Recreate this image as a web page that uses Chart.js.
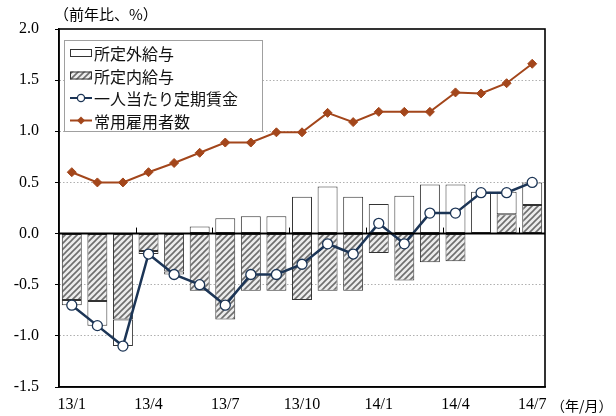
<!DOCTYPE html>
<html>
<head>
<meta charset="utf-8">
<script src="https://cdn.jsdelivr.net/npm/chart.js@4/dist/chart.umd.min.js"></script>
<style>
  html, body { margin: 0; padding: 0; background: #fff; }
  #wrap { width: 616px; height: 416px; }
</style>
</head>
<body>
<div id="wrap"><canvas id="c" width="616" height="416"></canvas></div>
<script>
// Months (year/month)
const categories = ['13/1','13/2','13/3','13/4','13/5','13/6','13/7','13/8','13/9','13/10',
                    '13/11','13/12','14/1','14/2','14/3','14/4','14/5','14/6','14/7'];
// Contribution of overtime pay (所定外給与), % y/y
const overtimePay = [-0.05,-0.24,-0.26,-0.03,-0.03,0.07,0.15,0.17,0.17,0.36,
                     0.46,0.36,0.29,0.37,0.48,0.48,0.41,0.22,0.22];
// Contribution of scheduled pay (所定内給与), % y/y
const scheduledPay = [-0.65,-0.66,-0.84,-0.17,-0.37,-0.56,-0.84,-0.56,-0.56,-0.65,
                      -0.56,-0.56,-0.19,-0.46,-0.28,-0.27,0.0,0.19,0.28];
// Regular wage per person, % y/y
const wagePerPerson = [-0.7,-0.9,-1.1,-0.2,-0.4,-0.5,-0.7,-0.4,-0.4,-0.3,
                       -0.1,-0.2,0.1,-0.1,0.2,0.2,0.4,0.4,0.5];
// Regular employees, % y/y
const employees = [0.6,0.5,0.5,0.6,0.69,0.79,0.89,0.89,0.99,0.99,
                   1.18,1.09,1.19,1.19,1.19,1.38,1.37,1.47,1.66];
// Y axis range and step
const yMin = -1.5, yMax = 2.0, yStep = 0.5;

const NUM_FONT = '"Liberation Serif", "Times New Roman", serif';
const JP_FONT = '"Noto Sans CJK JP", "Noto Sans", sans-serif';
const NAVY = '#1c3556';
const BROWN = '#a3461b';

// Diagonal hatch pattern for the scheduled-pay bars
function makeHatch() {
  const s = 6;
  const t = document.createElement('canvas');
  t.width = s; t.height = s;
  const g = t.getContext('2d');
  g.fillStyle = '#ececec';
  g.fillRect(0, 0, s, s);
  g.strokeStyle = '#6e6e6e';
  g.lineWidth = 1.6;
  g.beginPath();
  g.moveTo(-1, s + 1); g.lineTo(s + 1, -1);
  g.moveTo(-s / 2 - 1, s / 2 + 1); g.lineTo(s / 2 + 1, -s / 2 - 1);
  g.moveTo(s / 2 - 1, s * 1.5 + 1); g.lineTo(s * 1.5 + 1, s / 2 - 1);
  g.stroke();
  return document.getElementById('c').getContext('2d').createPattern(t, 'repeat');
}
const hatch = makeHatch();

// Frame, zero-line ticks, axis captions and boxed legend
const decorations = {
  id: 'decorations',
  afterDatasetsDraw(chart) {
    const { ctx, chartArea: a, scales } = chart;
    const x = scales.x, y = scales.y;
    ctx.save();
    // zero line
    const y0 = y.getPixelForValue(0);
    ctx.strokeStyle = '#000';
    ctx.lineWidth = 2;
    ctx.beginPath();
    ctx.moveTo(a.left, y0); ctx.lineTo(a.right, y0);
    ctx.stroke();
    // quarter ticks on the zero line
    ctx.lineWidth = 1;
    const half = (x.getPixelForValue(1) - x.getPixelForValue(0)) / 2;
    for (let i = 3; i < categories.length; i += 3) {
      const px = Math.round(x.getPixelForValue(i) - half) + 0.5;
      ctx.beginPath();
      ctx.moveTo(px, y0); ctx.lineTo(px, y0 - 6);
      ctx.stroke();
    }
    // plot frame
    ctx.lineWidth = 1.6;
    ctx.strokeRect(a.left, a.top, a.right - a.left, a.bottom - a.top);
    ctx.restore();
  },
  afterDraw(chart) {
    const { ctx, chartArea: a } = chart;
    ctx.save();
    ctx.fillStyle = '#000';
    ctx.font = '15px ' + JP_FONT;
    ctx.textBaseline = 'middle';
    ctx.textAlign = 'left';
    ctx.fillText('（前年比、%）', a.left - 5, 14);
    ctx.font = '14px ' + JP_FONT;
    ctx.fillText('（年/月）', a.right + 6, 406);

    // legend box
    const bx = a.left + 5, by = a.top + 11, bw = 198, bh = 91;
    ctx.fillStyle = '#fff';
    ctx.fillRect(bx, by, bw, bh);
    ctx.strokeStyle = '#a0a0a0';
    ctx.lineWidth = 1;
    ctx.strokeRect(bx + 0.5, by + 0.5, bw, bh);
    const ds = chart.data.datasets;
    const order = [1, 0, 2, 3];
    order.forEach((di, row) => {
      const d = ds[di];
      const cy = by + 13 + row * 22.5;
      const sx = bx + 6, sw = 22;
      if (d.type === 'bar') {
        ctx.fillStyle = d.backgroundColor;
        ctx.fillRect(sx, cy - 4, sw, 8);
        ctx.strokeStyle = '#333';
        ctx.lineWidth = 1;
        ctx.strokeRect(sx + 0.5, cy - 3.5, sw - 1, 7);
      } else {
        ctx.strokeStyle = d.borderColor;
        ctx.lineWidth = 2;
        ctx.beginPath();
        ctx.moveTo(sx, cy); ctx.lineTo(sx + sw, cy);
        ctx.stroke();
        const mx = sx + sw / 2;
        if (d.pointStyle === 'circle') {
          ctx.fillStyle = '#fff';
          ctx.lineWidth = 1.3;
          ctx.beginPath();
          ctx.arc(mx, cy, 3.6, 0, Math.PI * 2);
          ctx.fill(); ctx.stroke();
        } else {
          ctx.fillStyle = d.pointBackgroundColor;
          ctx.beginPath();
          ctx.moveTo(mx, cy - 4); ctx.lineTo(mx + 4, cy);
          ctx.lineTo(mx, cy + 4); ctx.lineTo(mx - 4, cy);
          ctx.closePath(); ctx.fill();
        }
      }
      ctx.fillStyle = '#111';
      ctx.font = '16px ' + JP_FONT;
      ctx.textAlign = 'left';
      ctx.textBaseline = 'middle';
      ctx.fillText(d.label, sx + sw + 2, cy + 1);
    });
    ctx.restore();
  }
};

new Chart(document.getElementById('c'), {
  data: {
    labels: categories,
    datasets: [
      {
        type: 'bar', label: '所定内給与', data: scheduledPay, stack: 'pay', order: 1,
        backgroundColor: hatch, borderColor: '#333', borderWidth: 1, borderSkipped: false,
        categoryPercentage: 1, barPercentage: 0.78
      },
      {
        type: 'bar', label: '所定外給与', data: overtimePay, stack: 'pay', order: 1,
        backgroundColor: '#fff', borderColor: '#333', borderWidth: 1, borderSkipped: false,
        categoryPercentage: 1, barPercentage: 0.78
      },
      {
        type: 'line', label: '一人当たり定期賃金', data: wagePerPerson, stack: 'wage', order: 0,
        borderColor: NAVY, borderWidth: 2.5, pointStyle: 'circle', pointRadius: 5,
        pointBackgroundColor: '#fff', pointBorderColor: NAVY, pointBorderWidth: 1.3,
        tension: 0
      },
      {
        type: 'line', label: '常用雇用者数', data: employees, stack: 'emp', order: 0,
        borderColor: BROWN, borderWidth: 2, pointStyle: 'rectRot', pointRadius: 4.5,
        pointBackgroundColor: BROWN, pointBorderColor: BROWN, pointBorderWidth: 1,
        tension: 0
      }
    ]
  },
  options: {
    responsive: false,
    animation: false,
    layout: { padding: { top: 29, right: 71, left: 0, bottom: 0 } },
    plugins: { legend: { display: false }, tooltip: { enabled: false }, title: { display: false } },
    scales: {
      x: {
        stacked: true,
        offset: true,
        grid: { display: false },
        border: { display: true, color: '#000', width: 1.5 },
        ticks: {
          color: '#000', font: { family: NUM_FONT, size: 16 }, padding: 0,
          autoSkip: false, maxRotation: 0,
          callback: (v, i) => (i % 3 === 0 ? categories[i] : '')
        },
        afterFit: s => { s.height = 29; }
      },
      y: {
        stacked: true,
        min: yMin, max: yMax,
        grid: {
          color: c => (c.tick && (c.tick.value === 0 || c.tick.value === yMin || c.tick.value === yMax)) ? 'rgba(0,0,0,0)' : '#b0b0b0',
          lineWidth: 1,
          tickColor: '#000', tickLength: 4, tickWidth: 1
        },
        border: { display: true, color: '#000', width: 1.5, dash: [1.5, 2] },
        ticks: {
          stepSize: yStep, color: '#000', font: { family: NUM_FONT, size: 16 }, padding: 16,
          callback: v => Number(v).toFixed(1)
        },
        afterFit: s => { s.width = 59; }
      }
    }
  },
  plugins: [decorations]
});
</script>
</body>
</html>
